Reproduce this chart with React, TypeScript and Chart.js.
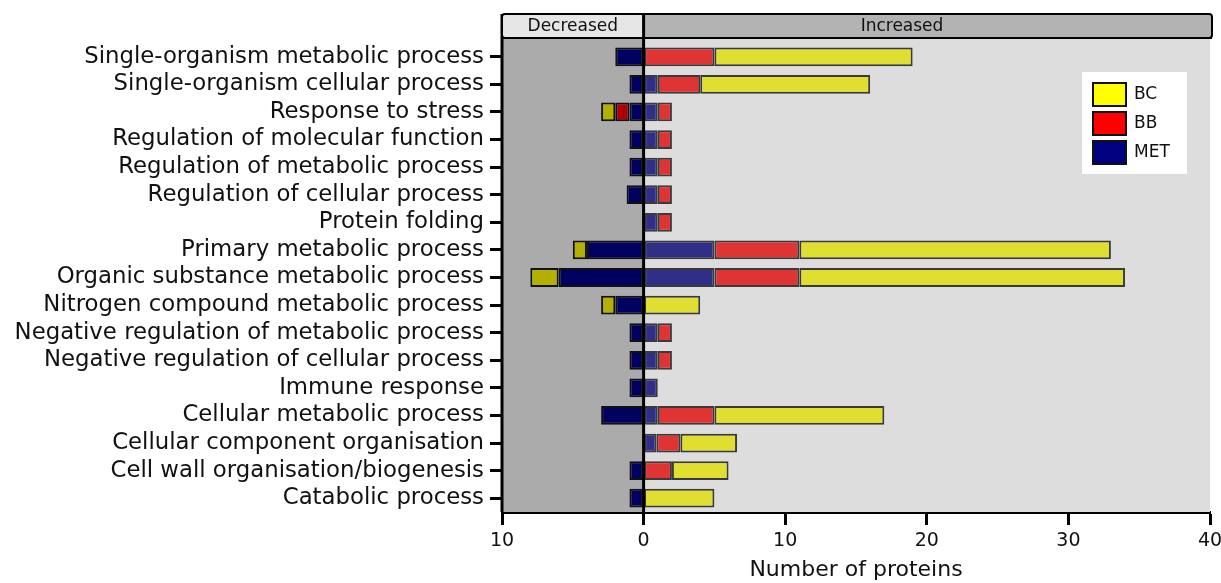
import React, { useEffect, useRef } from "react";
import { Chart, registerables } from "chart.js";

Chart.register(...registerables);

const categories = [
  "Single-organism metabolic process",
  "Single-organism cellular process",
  "Response to stress",
  "Regulation of molecular function",
  "Regulation of metabolic process",
  "Regulation of cellular process",
  "Protein folding",
  "Primary metabolic process",
  "Organic substance metabolic process",
  "Nitrogen compound metabolic process",
  "Negative regulation of metabolic process",
  "Negative regulation of cellular process",
  "Immune response",
  "Cellular metabolic process",
  "Cellular component organisation",
  "Cell wall organisation/biogenesis",
  "Catabolic process",
];

// Increased (positive) counts
const metIncreased = [null, 1, 1, 1, 1, 1, 1, 5, 5, null, 1, 1, 1, 1, 0.9, null, null];
const bbIncreased = [5, 3, 1, 1, 1, 1, 1, 6, 6, null, 1, 1, null, 4, 1.7, 2, null];
const bcIncreased = [14, 12, null, null, null, null, null, 22, 23, 4, null, null, null, 12, 4, 4, 5];

// Decreased (negative) counts
const metDecreased = [-2, -1, -1, -1, -1, -1.2, null, -4, -6, -2, -1, -1, -1, -3, null, -1, -1];
const bbDecreased = [null, null, -1, null, null, null, null, null, null, null, null, null, null, null, null, null, null];
const bcDecreased = [null, null, -1, null, null, null, null, -1, -2, -1, null, null, null, null, null, null, null];

const xTicks = [-10, 0, 10, 20, 30, 40];
const legendLabels = ["BC", "BB", "MET"];
const legendColors = ["#ffff00", "#ff0000", "#000080"];

const FONT = "'DejaVu Sans', Verdana, sans-serif";

export default function App() {
  const ref = useRef<HTMLCanvasElement | null>(null);

  useEffect(() => {
    if (!ref.current) return;

    const decoPlugin = {
      id: "deco",
      beforeDatasetsDraw(chart: any) {
        const { ctx, scales } = chart;
        const x = scales.x;
        const area = chart.chartArea;
        const x0 = x.getPixelForValue(0);
        const xl = x.getPixelForValue(-10);
        const xr = x.getPixelForValue(40);
        const top = 38;
        ctx.save();
        ctx.fillStyle = "#ababab";
        ctx.fillRect(xl, top, x0 - xl, area.bottom - top);
        ctx.fillStyle = "#dddddd";
        ctx.fillRect(x0, top, xr - x0, area.bottom - top);
        ctx.restore();
      },
      afterDatasetsDraw(chart: any) {
        const { ctx, scales } = chart;
        const x = scales.x;
        const area = chart.chartArea;
        const x0 = x.getPixelForValue(0);
        const xl = x.getPixelForValue(-10);
        const xr = x.getPixelForValue(40);
        ctx.save();
        // zero line
        ctx.strokeStyle = "#000";
        ctx.lineWidth = 3;
        ctx.beginPath();
        ctx.moveTo(x0, 14);
        ctx.lineTo(x0, area.bottom);
        ctx.stroke();
        // y axis line extension up
        ctx.beginPath();
        ctx.moveTo(xl, 14);
        ctx.lineTo(xl, area.bottom);
        ctx.stroke();

        // header boxes
        const hTop = 14;
        const hBot = 38;
        ctx.fillStyle = "#e6e6e6";
        ctx.fillRect(xl, hTop, x0 - xl, hBot - hTop);
        ctx.fillStyle = "#b3b3b3";
        ctx.fillRect(x0, hTop, xr - x0 + 2, hBot - hTop);
        ctx.lineWidth = 2;
        ctx.strokeStyle = "#000";
        ctx.beginPath();
        (ctx as any).roundRect(xl, hTop, xr - xl + 2, hBot - hTop, 3);
        ctx.stroke();
        ctx.lineWidth = 3;
        ctx.beginPath();
        ctx.moveTo(x0, hTop);
        ctx.lineTo(x0, hBot);
        ctx.stroke();
        ctx.lineWidth = 2;
        ctx.beginPath();
        ctx.moveTo(xl, hBot);
        ctx.lineTo(xr + 2, hBot);
        ctx.stroke();
        ctx.fillStyle = "#111";
        ctx.font = `17px ${FONT}`;
        ctx.textAlign = "center";
        ctx.textBaseline = "middle";
        ctx.fillText("Decreased", (xl + x0) / 2, (hTop + hBot) / 2 + 1);
        ctx.fillText("Increased", 902, (hTop + hBot) / 2 + 1);

        // legend
        ctx.fillStyle = "#ffffff";
        ctx.fillRect(1082, 72, 105, 102);
        for (let i = 0; i < legendLabels.length; i++) {
          const y = 83 + i * 29;
          ctx.fillStyle = legendColors[i];
          ctx.fillRect(1093, y, 33, 23);
          ctx.strokeStyle = "#111";
          ctx.lineWidth = 2;
          ctx.strokeRect(1093, y, 33, 23);
          ctx.fillStyle = "#111";
          ctx.font = `17px ${FONT}`;
          ctx.textAlign = "left";
          ctx.textBaseline = "middle";
          ctx.fillText(legendLabels[i], 1134, y + 12);
        }
        ctx.restore();
      },
    };

    const mk = (label: string, data: any[], color: string, border: string) => ({
      label,
      data,
      backgroundColor: color,
      borderColor: border,
      borderWidth: 2,
      borderSkipped: false,
      stack: "s",
      barPercentage: 0.68,
      categoryPercentage: 1,
    });

    const chart = new Chart(ref.current, {
      type: "bar",
      data: {
        labels: categories,
        datasets: [
          mk("MET", metIncreased, "#2f2f88", "#3a3a3a"),
          mk("BB", bbIncreased, "#e03333", "#3a3a3a"),
          mk("BC", bcIncreased, "#e0de30", "#3a3a3a"),
          mk("MET-", metDecreased, "#000060", "#111111"),
          mk("BB-", bbDecreased, "#b00000", "#111111"),
          mk("BC-", bcDecreased, "#b4b000", "#111111"),
        ] as any,
      },
      plugins: [decoPlugin],
      options: {
        indexAxis: "y",
        responsive: false,
        animation: false,
        layout: { padding: { top: 43, left: 0, right: 11, bottom: 0 } },
        plugins: {
          legend: { display: false },
          tooltip: { enabled: false },
        },
        scales: {
          x: {
            type: "linear",
            min: -10,
            max: 40,
            afterBuildTicks: (s: any) => {
              s.ticks = xTicks.map((v) => ({ value: v }));
            },
            afterFit: (s: any) => {
              s.height = 71;
              s.paddingRight = 0;
              s.paddingLeft = 0;
            },
            ticks: {
              color: "#111",
              font: { family: FONT, size: 19 },
              padding: 5,
              maxRotation: 0,
              callback: (v: any) => String(Math.abs(Number(v))),
            },
            grid: {
              display: true,
              drawOnChartArea: false,
              drawTicks: true,
              tickLength: 13,
              tickWidth: 3,
              tickColor: "#000",
            },
            border: { display: true, color: "#000", width: 3 },
            title: {
              display: true,
              text: "Number of proteins",
              color: "#111",
              font: { family: FONT, size: 22 },
              padding: { top: 0, bottom: 0 },
            },
          },
          y: {
            type: "category",
            offset: true,
            afterFit: (s: any) => {
              s.width = 502;
            },
            ticks: {
              color: "#111",
              font: { family: FONT, size: 22.8 },
              padding: 6,
              autoSkip: false,
            },
            grid: {
              display: true,
              offset: false,
              drawOnChartArea: false,
              drawTicks: true,
              tickLength: 12,
              tickWidth: 3,
              tickColor: "#000",
            },
            border: { display: true, color: "#000", width: 3 },
          },
        },
      } as any,
    });

    return () => chart.destroy();
  }, []);

  return (
    <div style={{ position: "fixed", left: 0, top: 0, width: 1221, height: 583, background: "#fff" }}>
      <canvas ref={ref} width={1221} height={583} style={{ width: 1221, height: 583, display: "block" }} />
    </div>
  );
}
